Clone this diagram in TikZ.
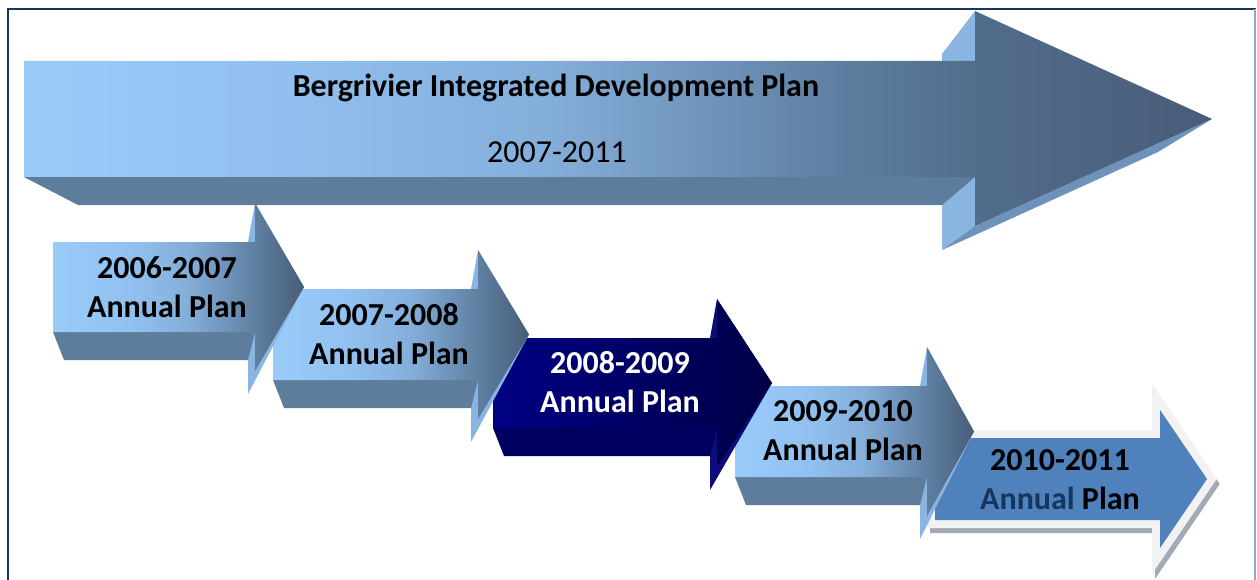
\documentclass[tikz,border=0pt]{standalone}
\usepackage{fontspec}
\setmainfont{Carlito}

\definecolor{framenavy}{HTML}{17375E}
\definecolor{frameedge}{HTML}{8EA9CC}
\definecolor{skyA}{HTML}{99CBF9}
\definecolor{skyB}{HTML}{92C1F1}
\definecolor{skyC}{HTML}{84AEDA}
\definecolor{skyD}{HTML}{5F80A2}
\definecolor{skyE}{HTML}{526D8C}
\definecolor{skyF}{HTML}{485C78}
\definecolor{underside}{HTML}{5E7C9C}
\definecolor{rim}{HTML}{8BB5E1}
\definecolor{headrim}{HTML}{6D92BB}
\definecolor{navyA}{HTML}{000084}
\definecolor{navyB}{HTML}{000046}
\definecolor{navyunder}{HTML}{00005E}
\definecolor{navyrim}{HTML}{0D0D7A}
\definecolor{lastfill}{HTML}{4F81BD}
\definecolor{lastrim}{HTML}{F2F2F2}
\definecolor{lastshadow}{HTML}{A3AAB5}
\definecolor{annualnavy}{HTML}{17365D}

% front faces, light on the left and dark towards the head
\pgfdeclarehorizontalshading{idpfront}{100bp}{color(0bp)=(skyA); color(25bp)=(skyA);
  color(35bp)=(skyB); color(47bp)=(skyC); color(59bp)=(skyD); color(65bp)=(skyE);
  color(75bp)=(skyF); color(100bp)=(skyF)}
\pgfdeclarehorizontalshading{planfront}{100bp}{color(0bp)=(skyA); color(25bp)=(skyA);
  color(40bp)=(skyB); color(52bp)=(skyC); color(65bp)=(skyD); color(75bp)=(skyF);
  color(100bp)=(skyF)}
\pgfdeclarehorizontalshading{navyfront}{100bp}{color(0bp)=(navyA); color(25bp)=(navyA);
  color(75bp)=(navyB); color(100bp)=(navyB)}

% 3D plan arrow: left x, top y, bottom y, head x, tip x, shading, underside, rim
\newcommand{\planarrow}[8]{%
  \fill[#8] ({#4-7},#2) -- (#4,{#2-39}) -- (#5,{(#2+#3)/2}) -- ({#4-7},{#3+62}) -- cycle;
  \fill[#7] (#1,#3) -- (#4,#3) -- ({#4-7},{#3+28}) -- ({#1+11},{#3+28}) -- cycle;
  \shade[shading=#6] (#1,#2) -- (#4,#2) -- (#4,{#2-39}) -- (#5,{(#2+#3)/2})
    -- (#4,{#3+39}) -- (#4,#3) -- (#1,#3) -- cycle;
}

\begin{document}
\begin{tikzpicture}[x=1pt,y=-1pt,
  plantext/.style={font=\fontsize{32}{38.5}\selectfont\bfseries, align=center, anchor=base},
  idptext/.style={font=\fontsize{32}{38.5}\selectfont, anchor=base}]
\useasboundingbox (0,0) rectangle (1257,580);

% frame
\draw[framenavy, line width=2.5pt] (8,580) -- (8,9) -- (1256,9);
\draw[frameedge, line width=1.2pt] (1255,9) -- (1255,580);

% 2010-2011, flat arrow with a pale rim and a shadow
\path[draw=lastshadow, line width=16pt, line join=miter, shift={(3pt,-5pt)}]
  (935,438) -- (1160,438) -- (1160,410) -- (1207,479) -- (1160,548) -- (1160,520) -- (935,520) -- cycle;
\path[draw=lastrim, fill=lastfill, line width=16pt, line join=miter]
  (935,438) -- (1160,438) -- (1160,410) -- (1207,479) -- (1160,548) -- (1160,520) -- (935,520) -- cycle;
\fill[lastfill]
  (935,438) -- (1160,438) -- (1160,410) -- (1207,479) -- (1160,548) -- (1160,520) -- (935,520) -- cycle;

% annual plans, drawn back to front
\planarrow{735}{386}{477}{927}{974}{planfront}{underside}{rim}
\planarrow{493}{338}{428}{717}{772}{navyfront}{navyunder}{navyrim}
\planarrow{273}{289}{380}{478}{529}{planfront}{underside}{rim}
\planarrow{53}{242}{332}{255}{304}{planfront}{underside}{rim}

% IDP arrow
\fill[rim] (942,54) -- (975,11) -- (975,226) -- (942,250) -- cycle;
\fill[headrim] (975,226) -- (1212,119) -- (1158,152) -- (942,250) -- cycle;
\fill[underside] (24,177) -- (975,177) -- (942,205) -- (78,205) -- cycle;
\shade[shading=idpfront] (24,61) -- (975,61) -- (975,11) -- (1212,119) -- (975,226)
  -- (975,177) -- (24,177) -- cycle;

\node (idp) [idptext, font=\fontsize{32}{38.5}\selectfont\bfseries] at (556,97) {Bergrivier Integrated Development Plan};
\node (idpyears) [idptext] at (557,163) {2007-2011};

% base anchor sits on the second line
\node (plan0607) [plantext] at (167,317) {2006-2007\\Annual Plan};
\node (plan0708) [plantext] at (389,364) {2007-2008\\Annual Plan};
\node (plan0809) [plantext, text=white] at (620,412) {2008-2009\\Annual Plan};
\node (plan0910) [plantext] at (843,460) {2009-2010\\Annual Plan};
\node (plan1011) [plantext] at (1060,509) {2010-2011\\\textcolor{annualnavy}{Annual} Plan};
\end{tikzpicture}
\end{document}
